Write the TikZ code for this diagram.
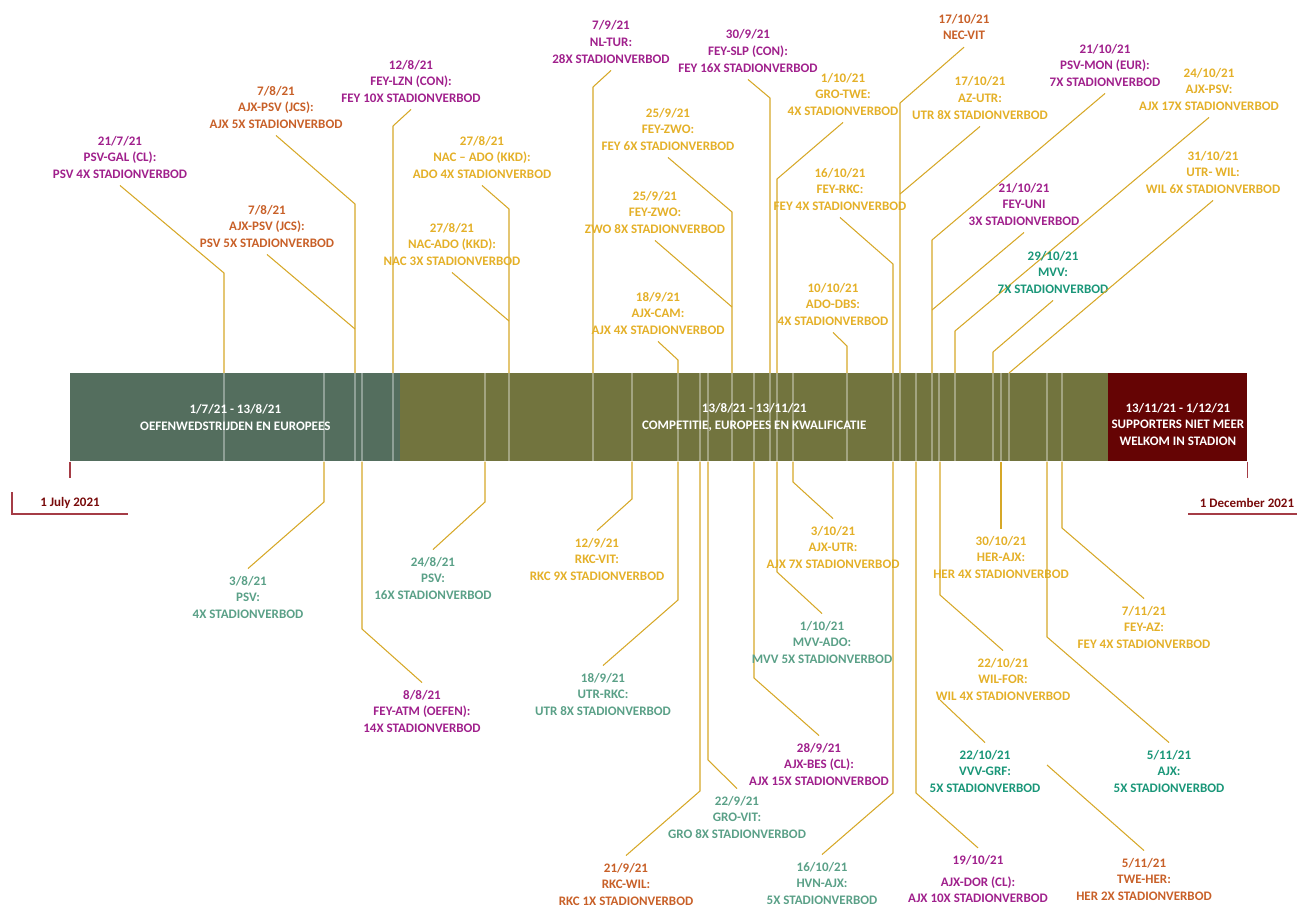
\documentclass[tikz,border=0pt]{standalone}
\usepackage{fontspec}
\setmainfont{Carlito}
\usepackage{tikz}

\definecolor{oefen}{RGB}{84,110,94}
\definecolor{comp}{RGB}{114,116,62}
\definecolor{dicht}{RGB}{101,4,4}
\definecolor{evpurple}{RGB}{160,32,140}
\definecolor{evorange}{RGB}{200,96,40}
\definecolor{evyellow}{RGB}{228,176,40}
\definecolor{evgrey}{RGB}{90,160,135}
\definecolor{evteal}{RGB}{25,150,120}
\definecolor{lijn}{RGB}{214,168,40}
\definecolor{datered}{RGB}{120,10,10}
\definecolor{tickred}{RGB}{165,60,70}

\tikzset{
  ev/.style={align=center, font=\bfseries\fontsize{7.4}{9.4}\selectfont,
    inner xsep=0pt, inner ysep=0.14cm},
  conn/.style={draw=lijn, line width=0.6pt},
  phase/.style={anchor=north west, minimum height=1.76cm, inner sep=0pt,
    align=center, text=white, font=\bfseries\fontsize{7.4}{9.4}\selectfont},
  barmark/.style={draw=white, opacity=0.35, line width=0.6pt},
  datetick/.style={draw=tickred, line width=0.6pt},
  endlabel/.style={text=datered, font=\bfseries\fontsize{7.4}{9.4}\selectfont}
}

\begin{document}
\begin{tikzpicture}[x=0.02cm, y=-0.02cm]
  \useasboundingbox (0,0) rectangle (1297,906);

  % de balk
  \node[phase, fill=oefen, minimum width=6.6cm] (seg1) at (70,373)
    {1/7/21 - 13/8/21\\OEFENWEDSTRIJDEN EN EUROPEES};
  \node[phase, fill=comp, minimum width=14.16cm] (seg2) at (400,373)
    {13/8/21 - 13/11/21\\COMPETITIE, EUROPEES EN KWALIFICATIE};
  \node[phase, fill=dicht, minimum width=2.78cm] (seg3) at (1108,373) {};
  \node[phase, anchor=center] (seg3txt) at ([yshift=-0.14cm]seg3.center)
    {13/11/21 - 1/12/21\\SUPPORTERS NIET MEER\\WELKOM IN STADION};

  \foreach \x in {224,324,355,362,393,485,509,593,632,678,700,708,732,754,770,
                  777,793,847,893,900,916,932,939,955,993,1001,1009,1047,1062}
    \draw[barmark] (\x,373) -- (\x,461);

  % begin en einde
  \draw[datetick] (seg1.south west) -- ++(0,16);
  \node[endlabel] (begin) at (70,503) {1 July 2021};
  \draw[datetick] (12,492) -- (12,514) -- (128,514);
  \draw[datetick] (seg3.south east) -- ++(0,16);
  \node[endlabel] (einde) at (1247,503) {1 December 2021};
  \draw[datetick] (1188,514) -- (1297,514);

  % boven de balk
  \node[ev, text=evpurple] (psvgal) at (120,157) {21/7/21\\PSV-GAL (CL):\\PSV 4X STADIONVERBOD};
  \draw[conn] (psvgal.south) -- (224,273) -- (224,0 |- seg1.north);
  \node[ev, text=evorange] (ajxpsva) at (276,107) {7/8/21\\AJX-PSV (JCS):\\AJX 5X STADIONVERBOD};
  \draw[conn] (ajxpsva.south) -- (355,204) -- (355,0 |- seg1.north);
  \node[ev, text=evorange] (ajxpsvb) at (267,226) {7/8/21\\AJX-PSV (JCS):\\PSV 5X STADIONVERBOD};
  \draw[conn] (ajxpsvb.south) -- (355,329);
  \node[ev, text=evpurple] (feylzn) at (411,81) {12/8/21\\FEY-LZN (CON):\\FEY 10X STADIONVERBOD};
  \draw[conn] (feylzn.south) -- (393,126) -- (393,0 |- seg1.north);
  \node[ev, text=evyellow] (nacadoa) at (482,157) {27/8/21\\NAC – ADO (KKD):\\ADO 4X STADIONVERBOD};
  \draw[conn] (nacadoa.south) -- (509,209) -- (509,0 |- seg2.north);
  \node[ev, text=evyellow] (nacadob) at (452,244) {27/8/21\\NAC-ADO (KKD):\\NAC 3X STADIONVERBOD};
  \draw[conn] (nacadob.south) -- (509,321);
  \node[ev, text=evpurple] (nltur) at (611,42) {7/9/21\\NL-TUR:\\28X STADIONVERBOD};
  \draw[conn] (nltur.south) -- (593,87) -- (593,0 |- seg2.north);
  \node[ev, text=evpurple] (feyslp) at (748,51) {30/9/21\\FEY-SLP (CON):\\FEY 16X STADIONVERBOD};
  \draw[conn] (feyslp.south) -- (770,98) -- (770,0 |- seg2.north);
  \node[ev, text=evyellow] (feyzwoa) at (668,129) {25/9/21\\FEY-ZWO:\\FEY 6X STADIONVERBOD};
  \draw[conn] (feyzwoa.south) -- (732,212) -- (732,0 |- seg2.north);
  \node[ev, text=evyellow] (feyzwob) at (655,212) {25/9/21\\FEY-ZWO:\\ZWO 8X STADIONVERBOD};
  \draw[conn] (feyzwob.south) -- (732,307);
  \node[ev, text=evyellow] (ajxcam) at (658,313) {18/9/21\\AJX-CAM:\\AJX 4X STADIONVERBOD};
  \draw[conn] (ajxcam.south) -- (678,360) -- (678,0 |- seg2.north);
  \node[ev, text=evyellow] (grotwe) at (843,94) {1/10/21\\GRO-TWE:\\4X STADIONVERBOD};
  \draw[conn] (grotwe.south) -- (777,179) -- (777,0 |- seg2.north);
  \node[ev, text=evyellow] (feyrkc) at (840,189) {16/10/21\\FEY-RKC:\\FEY 4X STADIONVERBOD};
  \draw[conn] (feyrkc.south) -- (893,264) -- (893,0 |- seg2.north);
  \node[ev, text=evyellow] (adodbs) at (833,304) {10/10/21\\ADO-DBS:\\4X STADIONVERBOD};
  \draw[conn] (adodbs.south) -- (847,346) -- (847,0 |- seg2.north);
  \node[ev, text=evorange] (necvit) at (964,27) {17/10/21\\NEC-VIT};
  \draw[conn] (necvit.south) -- (900,103) -- (900,0 |- seg2.north);
  \node[ev, text=evyellow] (azutr) at (980,98) {17/10/21\\AZ-UTR:\\UTR 8X STADIONVERBOD};
  \draw[conn] (azutr.south) -- (900,194);
  \node[ev, text=evpurple] (psvmon) at (1105,65) {21/10/21\\PSV-MON (EUR):\\7X STADIONVERBOD};
  \draw[conn] (psvmon.south) -- (932,240) -- (932,0 |- seg2.north);
  \node[ev, text=evpurple] (feyuni) at (1024,204) {21/10/21\\FEY-UNI\\3X STADIONVERBOD};
  \draw[conn] (feyuni.south) -- (932,310);
  \node[ev, text=evyellow] (ajxpsvc) at (1209,89) {24/10/21\\AJX-PSV:\\AJX 17X STADIONVERBOD};
  \draw[conn] (ajxpsvc.south) -- (955,331) -- (955,0 |- seg2.north);
  \node[ev, text=evteal] (mvv) at (1053,272) {29/10/21\\MVV:\\7X STADIONVERBOD};
  \draw[conn] (mvv.south) -- (993,352) -- (993,0 |- seg2.north);
  \node[ev, text=evyellow] (utrwil) at (1213,172) {31/10/21\\UTR- WIL:\\WIL 6X STADIONVERBOD};
  \draw[conn] (utrwil.south) -- (1009,0 |- seg2.north);

  % onder de balk
  \node[ev, text=evgrey] (psva) at (248,597) {3/8/21\\PSV:\\4X STADIONVERBOD};
  \draw[conn] (psva.north) -- (324,502) -- (324,0 |- seg1.south);
  \node[ev, text=evpurple] (feyatm) at (422,711) {8/8/21\\FEY-ATM (OEFEN):\\14X STADIONVERBOD};
  \draw[conn] (feyatm.north) -- (362,629) -- (362,0 |- seg1.south);
  \node[ev, text=evgrey] (psvb) at (433,578) {24/8/21\\PSV:\\16X STADIONVERBOD};
  \draw[conn] (psvb.north) -- (485,502) -- (485,0 |- seg2.south);
  \node[ev, text=evyellow] (rkcvit) at (597,559) {12/9/21\\RKC-VIT:\\RKC 9X STADIONVERBOD};
  \draw[conn] (rkcvit.north) -- (632,499) -- (632,0 |- seg2.south);
  \node[ev, text=evgrey] (utrrkc) at (603,694) {18/9/21\\UTR-RKC:\\UTR 8X STADIONVERBOD};
  \draw[conn] (utrrkc.north) -- (678,600) -- (678,0 |- seg2.south);
  \node[ev, text=evorange] (rkcwil) at (626,884) {21/9/21\\RKC-WIL:\\RKC 1X STADIONVERBOD};
  \draw[conn] (rkcwil.north) -- (700,791) -- (700,0 |- seg2.south);
  \node[ev, text=evgrey] (grovit) at (737,817) {22/9/21\\GRO-VIT:\\GRO 8X STADIONVERBOD};
  \draw[conn] (grovit.north) -- (708,760) -- (708,0 |- seg2.south);
  \node[ev, text=evpurple] (ajxbes) at (819,764) {28/9/21\\AJX-BES (CL):\\AJX 15X STADIONVERBOD};
  \draw[conn] (ajxbes.north) -- (754,678) -- (754,0 |- seg2.south);
  \node[ev, text=evgrey] (mvvado) at (822,642) {1/10/21\\MVV-ADO:\\MVV 5X STADIONVERBOD};
  \draw[conn] (mvvado.north) -- (777,572) -- (777,0 |- seg2.south);
  \node[ev, text=evyellow] (ajxutr) at (833,547) {3/10/21\\AJX-UTR:\\AJX 7X STADIONVERBOD};
  \draw[conn] (ajxutr.north) -- (793,482) -- (793,0 |- seg2.south);
  \node[ev, text=evgrey] (hvnajx) at (822,883) {16/10/21\\HVN-AJX:\\5X STADIONVERBOD};
  \draw[conn] (hvnajx.north) -- (893,793) -- (893,0 |- seg2.south);
  \node[ev, text=evpurple] (ajxdor) at (978,879) {19/10/21\\[3pt]AJX-DOR (CL):\\AJX 10X STADIONVERBOD};
  \draw[conn] (ajxdor.north) -- (916,793) -- (916,0 |- seg2.south);
  \node[ev, text=evyellow] (wilfor) at (1003,679) {22/10/21\\WIL-FOR:\\WIL 4X STADIONVERBOD};
  \draw[conn] (wilfor.north) -- (940,595) -- (940,0 |- seg2.south);
  \node[ev, text=evteal] (vvvgrf) at (985,771) {22/10/21\\VVV-GRF:\\5X STADIONVERBOD};
  \draw[conn] (vvvgrf.north) -- (940,700);
  \node[ev, text=evyellow] (herajx) at (1001,557) {30/10/21\\HER-AJX:\\HER 4X STADIONVERBOD};
  \draw[conn] (herajx.north) -- (1001,0 |- seg2.south);
  \node[ev, text=evteal] (ajxb) at (1169,771) {5/11/21\\AJX:\\5X STADIONVERBOD};
  \draw[conn] (ajxb.north) -- (1047,637) -- (1047,0 |- seg2.south);
  \node[ev, text=evorange] (twehere) at (1144,879) {5/11/21\\TWE-HER:\\HER 2X STADIONVERBOD};
  \draw[conn] (twehere.north) -- (1047,765);
  \node[ev, text=evyellow] (feyaz) at (1144,627) {7/11/21\\FEY-AZ:\\FEY 4X STADIONVERBOD};
  \draw[conn] (feyaz.north) -- (1062,528) -- (1062,0 |- seg2.south);
\end{tikzpicture}
\end{document}
